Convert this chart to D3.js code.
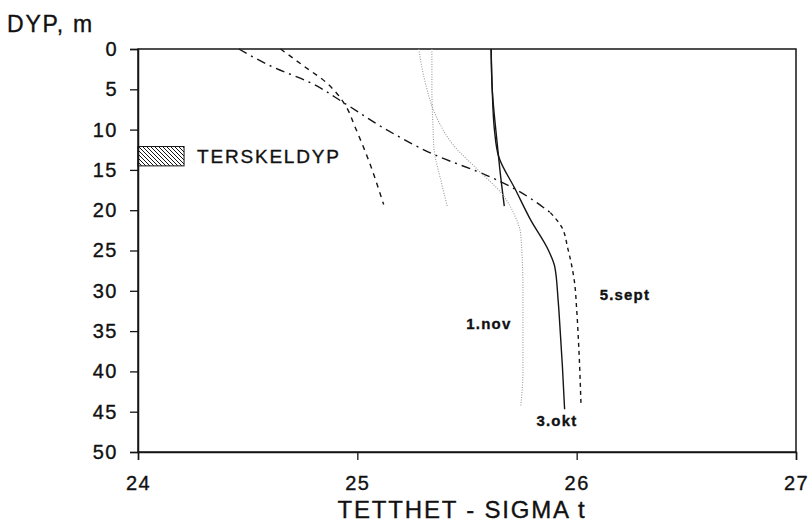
<!DOCTYPE html>
<html>
<head>
<meta charset="utf-8">
<script src="https://cdn.jsdelivr.net/npm/d3@7"></script>
<style>
  body { margin: 0; background: #fff; }
  svg { display: block; }
  text { font-family: "Liberation Sans", Arial, Helvetica, sans-serif; fill: #111; stroke: #111; stroke-width: 0.35px; }
</style>
</head>
<body>
<svg id="chart" width="811" height="522"></svg>
<script>
// ---------- data ----------
const sigmaTicks = [24, 25, 26, 27];
const depthTicks = [0, 5, 10, 15, 20, 25, 30, 35, 40, 45, 50];

// 5.sept, inner station (dash-dot above ~20 m, dashed below)
const septInnerDepth = [0, 2.3, 4.1, 6.7, 9.8, 13.1, 15.8, 17.4, 20.3, 22, 24.8, 28.9, 32.3, 37.2, 44.3];
const septInnerSigma = [24.46, 24.62, 24.78, 24.94, 25.12, 25.35, 25.60, 25.72, 25.88, 25.93, 25.96, 25.99, 26.00, 26.01, 26.02];
// 5.sept, outer station (dashed, to ~19 m)
const septOuterDepth = [0, 2, 4.2, 5.3, 7.2, 9.7, 13.7, 19.3];
const septOuterSigma = [24.65, 24.75, 24.86, 24.90, 24.95, 24.99, 25.05, 25.12];
// 3.okt, inner station (solid)
const oktInnerDepth = [0, 5, 10, 13.4, 17.4, 21.2, 24.9, 27, 31, 35, 39.4, 44.7];
const oktInnerSigma = [25.61, 25.615, 25.625, 25.645, 25.72, 25.79, 25.87, 25.90, 25.915, 25.925, 25.935, 25.945];
// 3.okt, outer station (solid, to ~19 m)
const oktOuterDepth = [0, 5, 11, 15, 19.5];
const oktOuterSigma = [25.61, 25.615, 25.635, 25.65, 25.67];
// 1.nov, inner station (dotted grey)
const novInnerDepth = [0, 4.2, 8.4, 12, 15, 18, 20.8, 23, 30, 40, 44.3];
const novInnerSigma = [25.28, 25.31, 25.36, 25.44, 25.55, 25.66, 25.72, 25.745, 25.755, 25.755, 25.745];
// 1.nov, outer station (dotted grey, to ~19 m)
const novOuterDepth = [0, 5, 9.7, 12.5, 16.2, 19.5];
const novOuterSigma = [25.34, 25.34, 25.345, 25.35, 25.38, 25.41];

// threshold depth band
const thresholdDepth = [12.1, 14.5];
const thresholdSigma = [24, 24.21];

const seriesLabels = [
  { text: "5.sept", sigma: 26.22, depth: 31.2 },
  { text: "1.nov", sigma: 25.6, depth: 34.8 },
  { text: "3.okt", sigma: 25.91, depth: 46.8 }
];

// ---------- drawing ----------
const svg = d3.select("#chart");
const x = d3.scaleLinear().domain([24, 27]).range([138, 796]);
const y = d3.scaleLinear().domain([0, 50]).range([49, 452]);

const ink = "#151515";

// hatch pattern
const defs = svg.append("defs");
defs.append("pattern")
  .attr("id", "hatch").attr("patternUnits", "userSpaceOnUse")
  .attr("width", 4).attr("height", 4)
  .append("path")
  .attr("d", "M-1,-1 L5,5 M-1,3 L1,5 M3,-1 L5,1")
  .attr("stroke", ink).attr("stroke-width", 1);

// frame
svg.append("rect")
  .attr("x", x(24)).attr("y", y(0))
  .attr("width", x(27) - x(24)).attr("height", y(50) - y(0))
  .attr("fill", "none").attr("stroke", ink).attr("stroke-width", 1.5);

// axes
const tickFont = g => g.selectAll(".tick text")
  .style("font-family", "'Liberation Sans', Arial, sans-serif")
  .style("font-size", "20px").style("letter-spacing", "1.5px")
  .attr("fill", ink).attr("stroke", ink).attr("stroke-width", 0.35);

const yAxis = d3.axisLeft(y).tickValues(depthTicks).tickSize(8).tickPadding(12).tickFormat(d3.format("d"));
const gy = svg.append("g").attr("transform", `translate(${x(24)},0)`).call(yAxis);
gy.select(".domain").attr("stroke", ink).attr("stroke-width", 1.5);
gy.selectAll(".tick line").attr("stroke", ink).attr("stroke-width", 1.3);
tickFont(gy);

const xAxis = d3.axisBottom(x).tickValues(sigmaTicks).tickSize(8).tickPadding(16).tickFormat(d3.format("d"));
const gx = svg.append("g").attr("transform", `translate(0,${y(50)})`).call(xAxis);
gx.select(".domain").attr("stroke", ink).attr("stroke-width", 1.5);
gx.selectAll(".tick line").attr("stroke", ink).attr("stroke-width", 1.3);
tickFont(gx);

// axis titles
svg.append("text").attr("x", 7).attr("y", 32)
  .style("font-size", "23px").style("letter-spacing", "1.8px")
  .text("DYP, m");
svg.append("text").attr("x", 462).attr("y", 518)
  .attr("text-anchor", "middle")
  .style("font-size", "24px").style("letter-spacing", "1.8px")
  .text("TETTHET - SIGMA t");

// threshold band
svg.append("rect")
  .attr("x", x(thresholdSigma[0])).attr("y", y(thresholdDepth[0]))
  .attr("width", x(thresholdSigma[1]) - x(thresholdSigma[0]))
  .attr("height", y(thresholdDepth[1]) - y(thresholdDepth[0]))
  .attr("fill", "url(#hatch)").attr("stroke", ink).attr("stroke-width", 1);
svg.append("text")
  .attr("x", x(thresholdSigma[1]) + 13)
  .attr("y", y((thresholdDepth[0] + thresholdDepth[1]) / 2) + 7)
  .style("font-size", "19px").style("letter-spacing", "1.8px")
  .text("TERSKELDYP");

// profiles
const line = d3.line().x(d => x(d[1])).y(d => y(d[0])).curve(d3.curveMonotoneY);
const zip = (ds, ss) => ds.map((d, i) => [d, ss[i]]);

function profile(depths, sigmas, stroke, width, dash) {
  svg.append("path")
    .datum(zip(depths, sigmas))
    .attr("d", line)
    .attr("fill", "none")
    .attr("stroke", stroke)
    .attr("stroke-width", width)
    .attr("stroke-dasharray", dash);
}

const septInner = zip(septInnerDepth, septInnerSigma);
svg.append("path")
  .datum(septInner.filter(d => d[0] <= 20.3))
  .attr("d", line).attr("fill", "none").attr("stroke", ink)
  .attr("stroke-width", 1.4).attr("stroke-dasharray", "9,5,2,5");
svg.append("path")
  .datum(septInner.filter(d => d[0] >= 20.3))
  .attr("d", line).attr("fill", "none").attr("stroke", ink)
  .attr("stroke-width", 1.4).attr("stroke-dasharray", "4,4");

profile(septOuterDepth, septOuterSigma, ink, 1.4, "5,5");
profile(oktInnerDepth, oktInnerSigma, ink, 1.4, null);
profile(oktOuterDepth, oktOuterSigma, ink, 1.4, null);
profile(novInnerDepth, novInnerSigma, "#9a9a9a", 1.1, "1,1.5");
profile(novOuterDepth, novOuterSigma, "#9a9a9a", 1.1, "1,1.5");

// series labels
svg.selectAll("text.series")
  .data(seriesLabels).enter().append("text")
  .attr("class", "series")
  .attr("x", d => x(d.sigma)).attr("y", d => y(d.depth))
  .attr("text-anchor", "middle")
  .style("font-size", "15px").style("font-weight", "bold").style("letter-spacing", "1.2px")
  .attr("stroke-width", 0)
  .text(d => d.text);
</script>
</body>
</html>
